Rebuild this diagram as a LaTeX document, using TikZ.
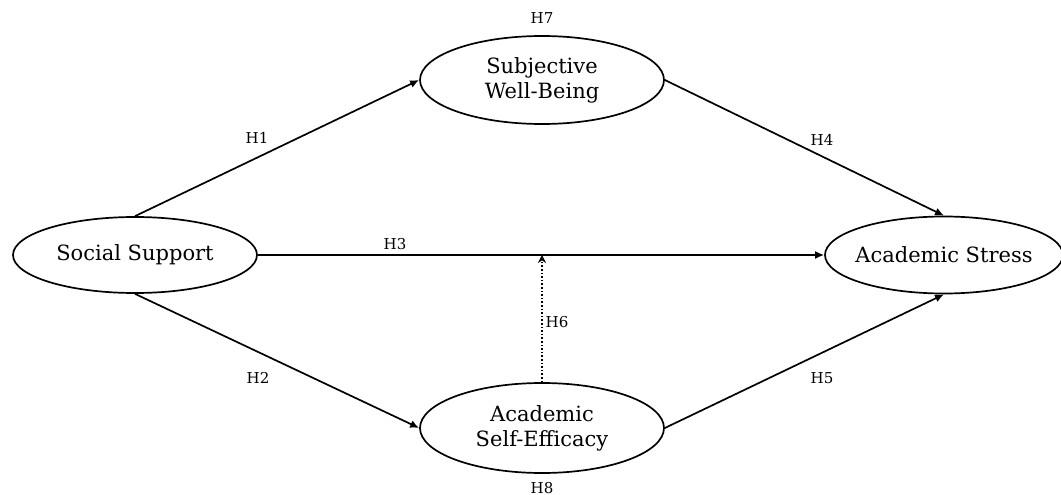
\documentclass[tikz,border=0pt]{standalone}
\usepackage{fontspec}
\setmainfont{DejaVu Serif}
\usetikzlibrary{shapes.geometric,arrows.meta}
\begin{document}
\begin{tikzpicture}[x=1pt,y=-1pt,
  construct/.style={draw, ellipse, line width=1.7pt, inner sep=0pt, align=center, font=\fontsize{21}{25}\selectfont},
  hyp/.style={font=\fontsize{15}{17}\selectfont, inner sep=1pt},
  path/.style={line width=1.7pt, -{Latex[length=9pt,width=8pt]}},
  moder/.style={line width=1.6pt, dotted, -{Stealth[length=8pt,width=8pt,open]}}]
\useasboundingbox[fill=white] (0,0) rectangle (1061,495);
\node[construct, minimum width=244pt, minimum height=76pt] (ss) at (135,255) {\makebox[0pt]{Social Support}};
\node[construct, minimum width=244pt, minimum height=88pt] (swb) at (542,80) {Subjective\\Well-Being};
\node[construct, minimum width=244pt, minimum height=90pt] (ase) at (542,428) {Academic\\Self-Efficacy};
\node[construct, minimum width=238pt, minimum height=77pt] (as) at (944,255) {\makebox[0pt]{Academic Stress}};
\coordinate (m) at (ase.north |- ss.east);
\draw[path] (ss.north) -- (swb.west);
\draw[path] (ss.south) -- (ase.west);
\draw[path] (swb.east) -- (as.north);
\draw[path] (ase.east) -- (as.south);
\draw[path] (ss.east) -- (as.west);
\draw[moder] (ase.north) -- (m);
\node[hyp] (h1) at (257,138) {H1};
\node[hyp] (h2) at (258,378) {H2};
\node[hyp] (h3) at (395,244) {H3};
\node[hyp] (h4) at (822,140) {H4};
\node[hyp] (h5) at (822,378) {H5};
\node[hyp] (h6) at (557,322) {H6};
\node[hyp] (h7) at (542,18) {H7};
\node[hyp] (h8) at (542,488) {H8};
\end{tikzpicture}
\end{document}
